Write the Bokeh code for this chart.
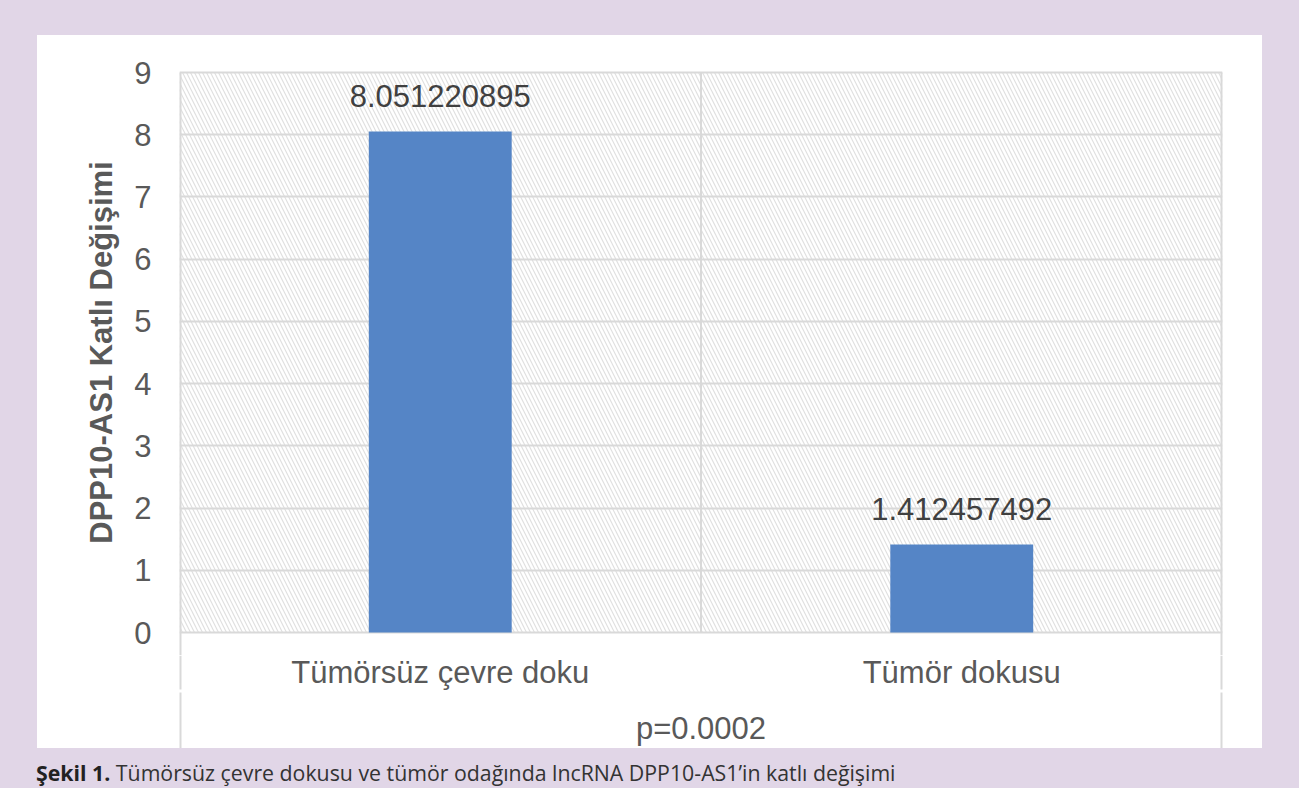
from bokeh.plotting import figure
from bokeh.models import (FactorRange, Range1d, FixedTicker, BoxAnnotation, Div, Spacer,
                          ColumnDataSource)
from bokeh.layouts import column, row
from bokeh.core.properties import value
from bokeh.embed import file_html
from bokeh.resources import INLINE

# ---- data ----
categories = ["Tümörsüz çevre doku", "Tümör dokusu"]
fold_change = [8.051220895, 1.412457492]
value_labels = ["8.051220895", "1.412457492"]
y_ticks = [0, 1, 2, 3, 4, 5, 6, 7, 8, 9]
y_title = "DPP10-AS1 Katlı Değişimi"
p_text = "p=0.0002"
caption_bold = "Şekil 1."
caption_rest = " Tümörsüz çevre dokusu ve tümör odağında lncRNA DPP10-AS1’in katlı değişimi"

# ---- styles ----
PURPLE = "#e1d6e7"
GRID = "#d9d9d9"
TXT = "#595959"
BAR = "#5585c6"
FONT = "Liberation Sans"
FS = "31px"

FIG_W = 1225
LEFT, RIGHT, TOP = 142, 40, 14
PAD = 23                  # extra frame space above 9 and below 0 (px)
GRID_H = 560              # pixel height between 0 and 9
PLOT_FRAME = GRID_H + 2 * PAD
TABLE_H = 93              # height of the table part below the chart
PANEL_H = TOP + PLOT_FRAME + TABLE_H
ymax = y_ticks[-1]
ppu = GRID_H / ymax
xr = FactorRange(*categories)
n = len(categories)
edges = [0, n]
inner = list(range(1, n))

# ---------------- chart ----------------
p = figure(width=FIG_W, height=TOP + PLOT_FRAME, x_range=xr,
           y_range=Range1d(-PAD / ppu, ymax + PAD / ppu), output_backend="svg",
           toolbar_location=None,
           min_border_left=LEFT, min_border_right=RIGHT, min_border_top=TOP,
           min_border_bottom=0, border_fill_color="white", background_fill_color="white",
           outline_line_color=None)

hatch = BoxAnnotation(bottom=0, top=ymax, fill_color=None, line_color=None,
                      hatch_pattern="\\", hatch_color="#e0e0e0", hatch_scale=8,
                      hatch_weight=1.2, level="image")
p.add_layout(hatch)

p.xgrid.visible = False
p.ygrid.ticker = FixedTicker(ticks=y_ticks)
p.ygrid.grid_line_color = GRID
p.ygrid.grid_line_width = 2

p.xaxis.visible = False
p.yaxis.ticker = FixedTicker(ticks=y_ticks)
p.yaxis.axis_line_color = None
p.yaxis.major_tick_line_color = None
p.yaxis.minor_tick_line_color = None
p.yaxis.major_label_standoff = 22
p.yaxis.major_label_text_font = FONT
p.yaxis.major_label_text_font_size = FS
p.yaxis.major_label_text_color = TXT
p.yaxis.axis_label = y_title
p.yaxis.axis_label_standoff = 12
p.yaxis.axis_label_text_font = FONT
p.yaxis.axis_label_text_font_size = FS
p.yaxis.axis_label_text_font_style = "bold"
p.yaxis.axis_label_text_color = TXT

p.segment(x0=edges, x1=edges, y0=[-PAD / ppu] * 2, y1=[ymax] * 2,
          line_color=GRID, line_width=4)
p.segment(x0=inner, x1=inner, y0=[0] * len(inner), y1=[ymax] * len(inner),
          line_color=GRID, line_width=2)

src = ColumnDataSource(dict(x=categories, top=fold_change,
                            ly=[v + 36 / ppu for v in fold_change], lab=value_labels))
p.vbar(x="x", top="top", width=0.274, source=src, fill_color=BAR, line_color=None)
p.text(x="x", y="ly", text="lab", source=src, text_align="center",
       text_baseline="middle", text_font=value(FONT), text_font_size=FS,
       text_color="#404040")

# ---------------- table below ----------------
t = figure(width=FIG_W, height=TABLE_H, x_range=xr, y_range=Range1d(0, TABLE_H),
           output_backend="svg", toolbar_location=None,
           min_border_left=LEFT, min_border_right=RIGHT, min_border_top=0,
           min_border_bottom=0, border_fill_color="white", background_fill_color="white",
           outline_line_color=None)
t.axis.visible = False
t.grid.visible = False
t.segment(x0=edges + edges, x1=edges + edges, y0=[0, 0, 59, 59],
          y1=[56, 56, TABLE_H, TABLE_H], line_color=GRID, line_width=4)
t.text(x=categories, y=[76] * n, text=categories, text_align="center",
       text_baseline="middle", text_font=value(FONT), text_font_size=FS, text_color=TXT)
t.text(x=[n / 2], y=[20], text=[p_text], text_align="center",
       text_baseline="middle", text_font=value(FONT), text_font_size=FS, text_color=TXT)

caption = Div(text=f"<b style='color:#222'>{caption_bold}</b>{caption_rest}",
              width=FIG_W, height=30, margin=(10, 0, 0, 36),
              styles={"font-family": "Open Sans", "font-size": "21.3px",
                      "color": "#333", "white-space": "nowrap"})

W, H = 1299, 788
bg = {"background-color": PURPLE}
panel = column(p, t, styles={"background-color": "white"}, width=FIG_W, height=PANEL_H)
layout = column(Spacer(width=W, height=35, styles=bg),
                row(Spacer(width=37, height=PANEL_H, styles=bg), panel,
                    Spacer(width=W - 37 - FIG_W, height=PANEL_H, styles=bg),
                    styles=bg),
                caption,
                styles=bg, width=W, height=H)

open("out.html", "w").write(file_html(layout, INLINE))
